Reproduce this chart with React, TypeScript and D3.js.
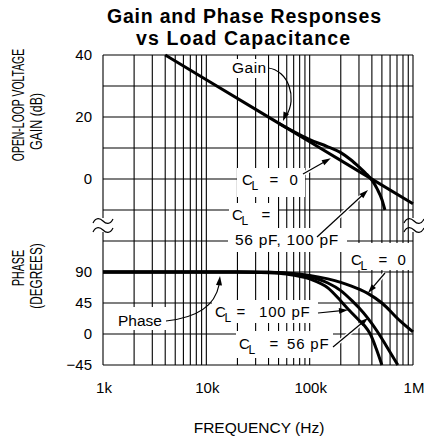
import React from 'react';
import * as d3 from 'd3';

const W = 424;
const H = 441;

// ---- data ----
const titleLines = ['Gain and Phase Responses', 'vs Load Capacitance'];
const freqTicks = [1e3, 1e4, 1e5, 1e6];
const freqTickLabels = ['1k', '10k', '100k', '1M'];
const gainGrid = [40, 30, 20, 10, 0, -10];
const gainTicks = [40, 20, 0];
const phaseGrid = [135, 90, 45, 0, -45];
const phaseTicks = [90, 45, 0, -45];

const gainC0Freq = [4e3, 1e4, 1e5, 1e6];
const gainC0 = [40, 32, 12, -8];
const gainLoadFreq = [5e4, 7e4, 1e5, 1.5e5, 2e5, 2.5e5, 3e5, 3.5e5, 4e5, 4.5e5, 5e5, 5.35e5];
const gainLoad = [18, 15.3, 12.7, 10.4, 8.5, 6.2, 3.9, 1.8, -0.4, -3.2, -6.6, -10];

const phaseC0Freq = [1e3, 2e4, 4e4, 6e4, 1e5, 1.5e5, 2e5, 2.5e5, 3.65e5, 5e5, 7.5e5, 1e6];
const phaseC0 = [90, 90, 89.5, 88.5, 85, 80, 75, 70, 59, 45, 19, 3];
const phase56Freq = [1e3, 2e4, 4e4, 6e4, 1e5, 1.5e5, 2e5, 2.62e5, 3e5, 3.65e5, 4.5e5, 5.5e5, 7.13e5];
const phase56 = [90, 90, 89.5, 88, 83, 74, 63, 47, 38, 23, 4, -17, -45];
const phase100Freq = [1e3, 2e4, 4e4, 6e4, 1e5, 1.5e5, 2e5, 2.43e5, 3e5, 3.4e5, 3.86e5, 4.4e5, 5e5];
const phase100 = [90, 90, 89, 87, 80, 67, 48, 34, 20, 12, 0, -21, -45];

// ---- layout ----
const L = 103, R = 413, T = 55, B = 365;
const x = d3.scaleLog().domain([1e3, 1e6]).range([L, R]);
const yG = d3.scaleLinear().domain([-10, 40]).range([210, T]);
const yP = d3.scaleLinear().domain([-45, 135]).range([B, 241]);
const fmt = d3.format('d');

const FONT = "'Liberation Sans', Arial, Helvetica, sans-serif";

const gainLine = d3
  .line<[number, number]>()
  .x((d) => x(d[0]))
  .y((d) => yG(d[1]))
  .curve(d3.curveMonotoneX);
const phaseLine = d3
  .line<[number, number]>()
  .x((d) => x(d[0]))
  .y((d) => yP(d[1]))
  .curve(d3.curveMonotoneX);

const zip = (a: number[], b: number[]) => a.map((v, i) => [v, b[i]] as [number, number]);

const minorFreqs: number[] = [];
[1e3, 1e4, 1e5].forEach((d) => {
  for (let m = 1; m <= 9; m++) {
    const f = d * m;
    if (f > 1e3) minorFreqs.push(f);
  }
});

function squiggle(cx: number, cy: number) {
  return `M${cx - 10},${cy + 2} C${cx - 7},${cy - 4} ${cx - 3},${cy - 3} ${cx},${cy} S${cx + 7},${cy + 4} ${cx + 10},${cy - 2}`;
}

function Arrow({ x1, y1, x2, y2 }: { x1: number; y1: number; x2: number; y2: number }) {
  const dx = x2 - x1, dy = y2 - y1;
  const len = Math.hypot(dx, dy);
  const ux = dx / len, uy = dy / len;
  const hx = x2 - ux * 10, hy = y2 - uy * 10;
  return (
    <g>
      <line x1={x1} y1={y1} x2={hx} y2={hy} stroke="#fff" strokeWidth={4} />
      <line x1={x1} y1={y1} x2={x2 - ux * 4} y2={y2 - uy * 4} stroke="#000" strokeWidth={1.2} />
      <path
        d={`M${x2},${y2} L${x2 - ux * 9 - uy * 2.8},${y2 - uy * 9 + ux * 2.8} L${x2 - ux * 9 + uy * 2.8},${y2 - uy * 9 - ux * 2.8} Z`}
        fill="#000"
      />
    </g>
  );
}

function CL({ x0, base, eqX, val, valX, anchor = 'middle' }: { x0: number; base: number; eqX: number; val: string; valX: number; anchor?: string }) {
  return (
    <g fontFamily={FONT} fill="#000">
      <text x={x0} y={base} fontSize={15}>C</text>
      <text x={x0 + 9.5} y={base + 5} fontSize={12}>L</text>
      <text x={eqX} y={base} fontSize={15} textAnchor="middle">=</text>
      {val && (
        <text x={valX} y={base} fontSize={15} textAnchor={anchor as any} letterSpacing={0.8}>
          {val}
        </text>
      )}
    </g>
  );
}

function VTitle({ cx, cy, len, natural, children }: { cx: number; cy: number; len: number; natural: number; children: string }) {
  const s = len / natural;
  return (
    <text transform={`translate(${cx},${cy}) rotate(-90) scale(${s},1)`} textAnchor="middle">
      {children}
    </text>
  );
}

export default function App() {
  const labelBoxes = [
    [229, 59, 39, 19],
    [237, 168, 68, 29],
    [229, 203, 49, 25],
    [228, 228, 119, 24],
    [346, 243, 66, 27],
    [115, 307, 53, 23],
    [212, 300, 106, 23],
    [236, 331, 97, 27],
  ];

  const gainTipX = x(1.6e5);
  const gainTipY = yG(40 - 20 * Math.log10(1.6e5 / 4e3)) + 4;

  return (
    <svg
      width={W}
      height={H}
      style={{ position: 'absolute', left: 0, top: 0, background: '#fff' }}
      xmlns="http://www.w3.org/2000/svg"
    >
      <rect x={0} y={0} width={W} height={H} fill="#fff" />
      {/* title */}
      <g fontFamily={FONT} fontWeight="bold" fontSize={19.5} textAnchor="middle" fill="#000">
        <text x={244} y={23} textLength={274} lengthAdjust="spacing">{titleLines[0]}</text>
        <text x={243} y={45} textLength={214} lengthAdjust="spacing">{titleLines[1]}</text>
      </g>

      {/* grid */}
      <g stroke="#000" strokeWidth={1.1}>
        {minorFreqs.map((f) => (
          <line key={'v' + f} x1={x(f)} x2={x(f)} y1={T} y2={B} />
        ))}
        {gainGrid.map((g) => (
          <line key={'g' + g} x1={L} x2={R} y1={yG(g)} y2={yG(g)} />
        ))}
        {phaseGrid.map((p) => (
          <line key={'p' + p} x1={L} x2={R} y1={yP(p)} y2={yP(p)} />
        ))}
        <line x1={L} x2={L} y1={T} y2={218} />
        <line x1={L} x2={L} y1={232} y2={B} />
        <line x1={R} x2={R} y1={T} y2={218} />
        <line x1={R} x2={R} y1={232} y2={B} />
      </g>
      <g stroke="#000" strokeWidth={1.2} fill="none">
        <path d={squiggle(L, 221)} />
        <path d={squiggle(L, 230)} />
        <path d={squiggle(R + 1, 221)} />
        <path d={squiggle(R + 1, 230)} />
      </g>

      {/* label backgrounds */}
      {labelBoxes.map((b, i) => (
        <rect key={'b' + i} x={b[0]} y={b[1]} width={b[2]} height={b[3]} fill="#fff" />
      ))}

      {/* curves */}
      <g fill="none" stroke="#000" strokeWidth={3} strokeLinejoin="round">
        <path d={gainLine(zip(gainC0Freq, gainC0)) || ''} />
        <path d={gainLine(zip(gainLoadFreq, gainLoad)) || ''} />
        <path d={phaseLine(zip(phaseC0Freq, phaseC0)) || ''} />
        <path d={phaseLine(zip(phase56Freq, phase56)) || ''} />
        <path d={phaseLine(zip(phase100Freq, phase100)) || ''} />
      </g>

      {/* arrows */}
      <path d="M268,68 C288,70 298,98 286,116" fill="none" stroke="#000" strokeWidth={1.2} />
      <path d="M283,121 L283.5,111.5 L289,114 Z" fill="#000" />
      <path d="M166,321 Q213,316 219,285" fill="none" stroke="#000" strokeWidth={1.2} />
      <path d="M220,276 L216,285 L222,285.5 Z" fill="#000" />
      <Arrow x1={303} y1={174} x2={gainTipX} y2={gainTipY} />
      <Arrow x1={317} y1={237} x2={368} y2={190} />
      <Arrow x1={318} y1={313} x2={348} y2={310} />
      <Arrow x1={333} y1={347} x2={368} y2={318} />
      <Arrow x1={385} y1={273} x2={368} y2={293} />

      {/* annotation text */}
      <g fontFamily={FONT} fontSize={15.5} fill="#000">
        <text x={232} y={73} letterSpacing={0.5}>Gain</text>
        <text x={118} y={326}>Phase</text>
        <text x={235} y={245} letterSpacing={0.7}>56 pF, 100 pF</text>
      </g>
      <CL x0={242} base={185} eqX={274} val="0" valX={294} />
      <CL x0={232} base={220} eqX={266} val="" valX={0} />
      <CL x0={351} base={265} eqX={383} val="0" valX={402} />
      <CL x0={215} base={317} eqX={241} val="100 pF" valX={259} anchor="start" />
      <CL x0={239} base={349} eqX={274} val="56 pF" valX={287} anchor="start" />

      {/* tick labels */}
      <g fontFamily={FONT} fontSize={15} fill="#000">
        {gainTicks.map((g) => (
          <text key={'gt' + g} x={92} y={yG(g) + 5} textAnchor="end">{fmt(g)}</text>
        ))}
        {phaseTicks.map((p) => (
          <text key={'pt' + p} x={92} y={yP(p) + 5} textAnchor="end">{fmt(p)}</text>
        ))}
        {freqTicks.map((f, i) => (
          <text key={'ft' + f} x={x(f) + 1} y={393} textAnchor="middle">{freqTickLabels[i]}</text>
        ))}
      </g>

      {/* axis titles */}
      <g fontFamily={FONT} fontSize={16} fill="#000">
        <text x={259} y={433} fontSize={15.5} textAnchor="middle">FREQUENCY (Hz)</text>
        <VTitle cx={23.5} cy={105} len={114} natural={175}>OPEN-LOOP VOLTAGE</VTitle>
        <VTitle cx={41.5} cy={121.5} len={58} natural={75}>GAIN (dB)</VTitle>
        <VTitle cx={23.5} cy={268} len={36} natural={54}>PHASE</VTitle>
        <VTitle cx={41.5} cy={276} len={64} natural={87}>(DEGREES)</VTitle>
      </g>
    </svg>
  );
}
